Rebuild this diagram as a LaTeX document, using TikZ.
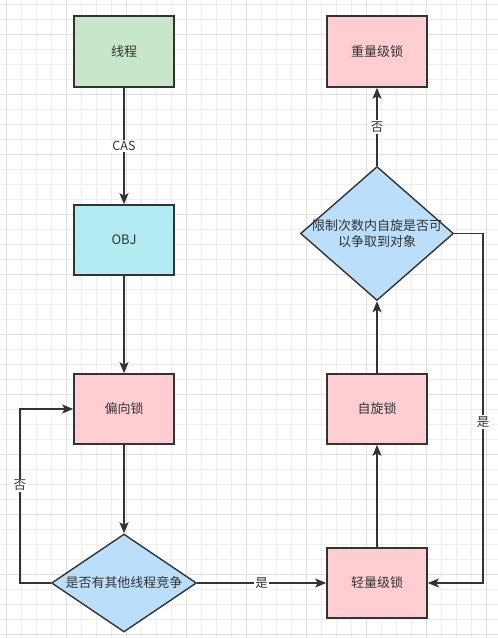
\documentclass[tikz,border=0pt]{standalone}
\usepackage{fontspec}
\setmainfont{Noto Sans CJK SC}
\usetikzlibrary{shapes.geometric,arrows.meta}
\definecolor{ink}{HTML}{333333}
\definecolor{gmin}{HTML}{EEEEEE}
\definecolor{gmaj}{HTML}{E0E0E0}
\definecolor{fgreen}{HTML}{C8E6C9}
\definecolor{fcyan}{HTML}{B2EBF2}
\definecolor{fpink}{HTML}{FFCDD2}
\definecolor{fblue}{HTML}{BBDEFB}
\tikzset{
  box/.style={draw=ink, line width=1.6pt, minimum width=100pt, minimum height=70pt, inner sep=0pt, text=ink, font=\fontsize{13}{15}\selectfont},
  decision/.style={diamond, draw=ink, line width=1.4pt, fill=fblue, inner sep=0pt},
  dtext/.style={text=ink, font=\fontsize{13}{16}\selectfont, align=center, inner sep=0pt},
  edge/.style={draw=ink, line width=1.6pt, -{Stealth[length=11pt,width=9pt,inset=2.5pt]}},
  lbl/.style={fill=white, text=ink, inner sep=1.5pt, font=\fontsize{12.5}{14}\selectfont},
  minorline/.style={gmin, line width=0.8pt},
  majorline/.style={gmaj, line width=0.8pt}
}
\begin{document}
\begin{tikzpicture}[x=1pt,y=-1pt]
\useasboundingbox (0,0) rectangle (498,638);
\fill[white] (0,0) rectangle (498,638);
\foreach \x in {6.7,21.7,...,497} \draw[minorline] (\x,0) -- (\x,638);
\foreach \y in {4,19,...,637} \draw[minorline] (0,\y) -- (498,\y);
\foreach \x in {6.7,66.7,...,497} \draw[majorline] (\x,0) -- (\x,638);
\foreach \y in {34,94,...,637} \draw[majorline] (0,\y) -- (498,\y);

\node[box, fill=fgreen, minimum height=71pt] (thread) at (124,51.5) {线程};
\node[box, fill=fcyan] (obj) at (124,240) {OBJ};
\node[box, fill=fpink] (pian) at (124,409) {偏向锁};
\node[decision, minimum width=145pt, minimum height=98pt] (d1) at (124,583) {};
\node[dtext] (d1t) at (d1.center) {是否有其他线程竞争};
\node[box, fill=fpink] (qing) at (377,583) {轻量级锁};
\node[box, fill=fpink] (zix) at (377,409) {自旋锁};
\node[decision, minimum width=153pt, minimum height=134pt] (d2) at (377,233.5) {};
\node[dtext] (d2t) at (d2.center) {限制次数内自旋是否可\\以争取到对象};
\node[box, fill=fpink, minimum height=71pt] (zhong) at (377,51.5) {重量级锁};

\draw[edge] (thread) -- node[lbl] {CAS} (obj);
\draw[edge] (obj) -- (pian);
\draw[edge] (pian) -- (d1);
\draw[edge] (d1.west) -- ++(-31,0) |- node[lbl, pos=0.28] {否} (pian.west);
\draw[edge] (d1.east) -- node[lbl] {是} (qing.west);
\draw[edge] (qing) -- (zix);
\draw[edge] (zix) -- (d2);
\draw[edge] (d2.north) -- node[lbl] {否} (zhong.south);
\draw[edge] (d2.east) -- ++(29,0) |- node[lbl, pos=0.27] {是} (qing.east);
\end{tikzpicture}
\end{document}
